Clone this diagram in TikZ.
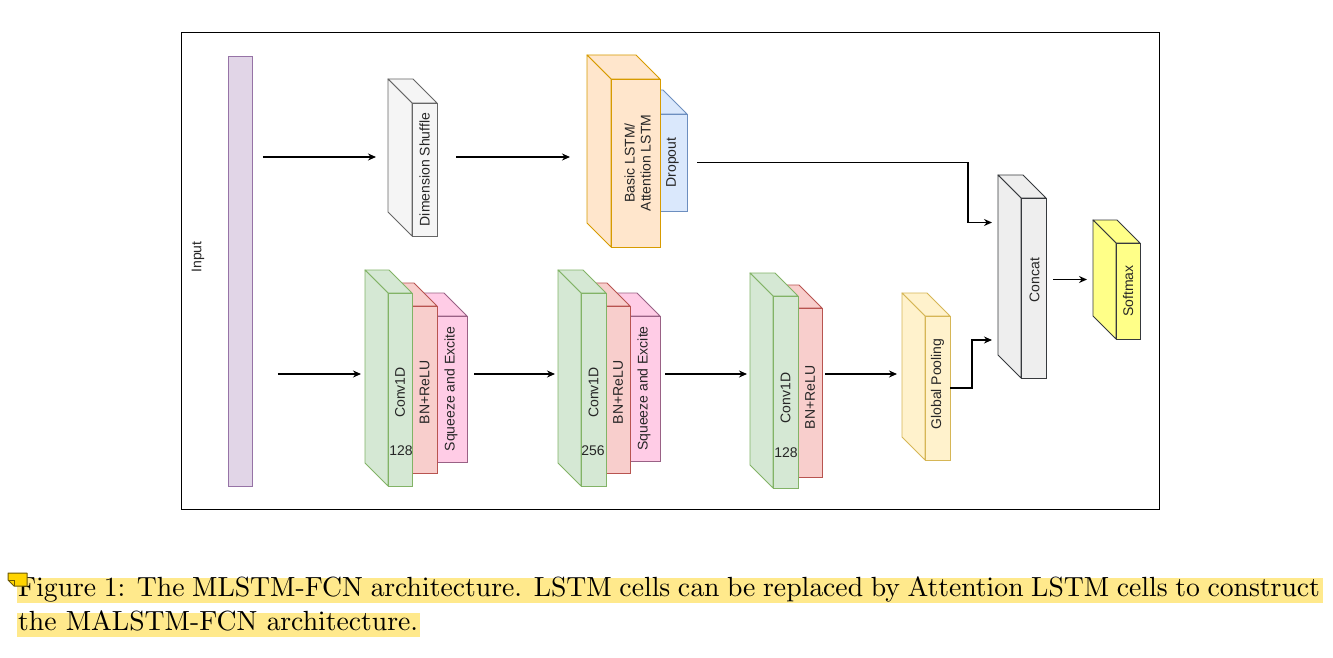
\documentclass[tikz,border=0pt]{standalone}
\usepackage{fontspec}
\usetikzlibrary{arrows.meta}
\newfontfamily\dfont{Liberation Sans}
\font\capfont=cmr10 at 27.7pt
\definecolor{inpF}{HTML}{E1D5E7}\definecolor{inpD}{HTML}{9673A6}
\definecolor{shF}{HTML}{F5F5F5}\definecolor{shD}{HTML}{666666}
\definecolor{lsF}{HTML}{FFE6CC}\definecolor{lsD}{HTML}{D79B00}
\definecolor{drF}{HTML}{DAE8FC}\definecolor{drD}{HTML}{6C8EBF}
\definecolor{cvF}{HTML}{D5E8D4}\definecolor{cvD}{HTML}{82B366}
\definecolor{bnF}{HTML}{F8CECC}\definecolor{bnD}{HTML}{B85450}
\definecolor{seF}{HTML}{FFCCE6}\definecolor{seD}{HTML}{996185}
\definecolor{gpF}{HTML}{FFF2CC}\definecolor{gpD}{HTML}{D6B656}
\definecolor{ccF}{HTML}{EEEEEE}\definecolor{ccD}{HTML}{36393D}
\definecolor{smF}{HTML}{FFFF88}\definecolor{smD}{HTML}{36393D}
\definecolor{hlC}{RGB}{255,233,140}
\definecolor{noteF}{HTML}{FFD400}\definecolor{noteD}{HTML}{6E5A00}
\tikzset{
  cubeline/.style={line width=0.9pt},
  arr/.style={-{Stealth[length=8pt,width=7pt]}, line width=1.2pt},
  lbl/.style={font=\dfont\fontsize{14}{16}\selectfont, text=black!85, rotate=90, inner sep=0, align=center},
  hlbl/.style={font=\dfont\fontsize{14}{16}\selectfont, text=black!85, inner sep=0},
}
% name, x, y (front face top-left), w, h, depth, fill, draw
\newcommand\cubebox[8]{%
  \filldraw[fill=#7, draw=#8, cubeline, line join=round] ({#2-#6},{#3-#6}) -- ({#2+#4-#6},{#3-#6}) -- ({#2+#4},{#3}) -- ({#2},{#3}) -- cycle;
  \filldraw[fill=#7, draw=#8, cubeline, line join=round] ({#2-#6},{#3-#6}) -- ({#2},{#3}) -- ({#2},{#3+#5}) -- ({#2-#6},{#3+#5-#6}) -- cycle;
  \node[fill=#7, draw=#8, cubeline, minimum width=#4pt, minimum height=#5pt, inner sep=0, outer sep=0, anchor=north west] (#1) at ({#2},{#3}) {};
  \coordinate (#1-l) at ({#2-#6},{#3+#5/2-#6/2});
}
\begin{document}
\begin{tikzpicture}[x=1pt,y=-1pt]
\useasboundingbox (0,0) rectangle (1333,658);
\fill[white] (0,0) rectangle (1333,658);
% frame
\node[draw=black, line width=1.2pt, minimum width=978pt, minimum height=477pt, inner sep=0, anchor=north west] (frame) at (181,32) {};
% input
\node[fill=inpF, draw=inpD, cubeline, minimum width=24pt, minimum height=430pt, inner sep=0, anchor=north west] (input) at (228,56) {};
\node[lbl] (inlbl) at (198,257) {Input};
% top row
\cubebox{shuf}{412}{103}{25}{133}{24}{shF}{shD}
\node[lbl] (shuflbl) at (shuf.center) {Dimension Shuffle};
\cubebox{drop}{660}{114}{27}{97}{24}{drF}{drD}
\cubebox{lstm}{611}{79}{49}{168}{24}{lsF}{lsD}
\node[lbl] (lstmlbl) at ([xshift=2pt]lstm.center) {Basic LSTM/\\Attention LSTM};
\node[lbl] (droplbl) at ([xshift=-1pt]drop.center) {Dropout};
% block 1
\cubebox{se1}{437}{316}{30}{146}{23}{seF}{seD}
\cubebox{bn1}{412}{306}{25}{167}{23}{bnF}{bnD}
\cubebox{conv1}{388}{293}{24}{193}{23}{cvF}{cvD}
\node[lbl] (c1l) at ([yshift=-3pt]conv1.center) {Conv1D};
\node[hlbl] (c1n) at (401,451) {128};
\node[lbl] (b1l) at ([yshift=-3pt]bn1.center) {BN+ReLU};
\node[lbl] (s1l) at ([xshift=-1pt]se1.center) {Squeeze and Excite};
% block 2
\cubebox{se2}{630}{316}{30}{145}{23}{seF}{seD}
\cubebox{bn2}{606}{306}{24}{167}{23}{bnF}{bnD}
\cubebox{conv2}{581}{293}{25}{193}{23}{cvF}{cvD}
\node[lbl] (c2l) at ([yshift=-3pt]conv2.center) {Conv1D};
\node[hlbl] (c2n) at (593,451) {256};
\node[lbl] (b2l) at ([yshift=-3pt]bn2.center) {BN+ReLU};
\node[lbl] (s2l) at ([xshift=-1pt]se2.center) {Squeeze and Excite};
% block 3
\cubebox{bn3}{798}{308}{24}{169}{23}{bnF}{bnD}
\cubebox{conv3}{773}{296}{25}{192}{23}{cvF}{cvD}
\node[lbl] (c3l) at ([yshift=-6pt]conv3.center) {Conv1D};
\node[hlbl] (c3n) at (786,453) {128};
\node[lbl] (b3l) at ([yshift=-5pt]bn3.center) {BN+ReLU};
% global pooling, concat, softmax
\cubebox{gp}{925}{316}{25}{144}{23}{gpF}{gpD}
\node[lbl] (gpl) at ([yshift=4pt]gp.center) {Global Pooling};
\cubebox{concat}{1021}{198}{25}{180}{23}{ccF}{ccD}
\node[lbl] (ccl) at ([xshift=1pt,yshift=8pt]concat.center) {Concat};
\cubebox{soft}{1116}{243}{24}{96}{23}{smF}{smD}
\node[lbl] (sml) at (soft.center) {Softmax};
% arrow rows
\coordinate (row1) at (0,157);
\coordinate (row2) at (0,374);
\draw[arr, shorten <=10pt, shorten >=12pt] (input.east |- row1) -- (shuf-l |- row1);
\draw[arr, shorten <=19pt, shorten >=17pt] (shuf.east |- row1) -- (lstm-l |- row1);
\draw[arr, shorten <=10pt, shorten >=6pt] (drop.east) -- ++(281,0) |- ([yshift=54pt]concat-l);
\draw[arr, shorten >=6pt] (gp.east) -- ++(22,0) |- ([yshift=-63.5pt]concat-l);
\draw[arr, shorten <=7pt, shorten >=6pt] (concat.east |- soft-l) -- (soft-l);
\draw[arr, shorten <=25pt, shorten >=4pt] (input.east |- row2) -- (conv1-l |- row2);
\draw[arr, shorten <=7pt, shorten >=3pt] (se1.east |- row2) -- (conv2-l |- row2);
\draw[arr, shorten <=5pt, shorten >=3pt] (se2.east |- row2) -- (conv3-l |- row2);
\draw[arr, shorten <=3pt, shorten >=5pt] (bn3.east |- row2) -- (gp-l |- row2);
% caption
\fill[hlC] (17,578) rectangle (1323,603);
\fill[hlC] (17,613) rectangle (420,637);
\node[anchor=base west, inner sep=0, font=\capfont] (cap1) at (18,596) {\makebox[1303pt][s]{Figure 1: The MLSTM-FCN architecture. LSTM cells can be replaced by Attention LSTM cells to construct}};
\node[anchor=base west, inner sep=0, font=\capfont] (cap2) at (18,630) {the MALSTM-FCN architecture.};
% note icon
\filldraw[fill=noteF, draw=noteD, line width=1pt, line join=round] (8,573) -- (27,573) -- (27,586) -- (14,586) -- (8,580) -- cycle;
\draw[noteD, line width=0.8pt] (8,580) -- (14,580) -- (14,586);
\end{tikzpicture}
\end{document}
